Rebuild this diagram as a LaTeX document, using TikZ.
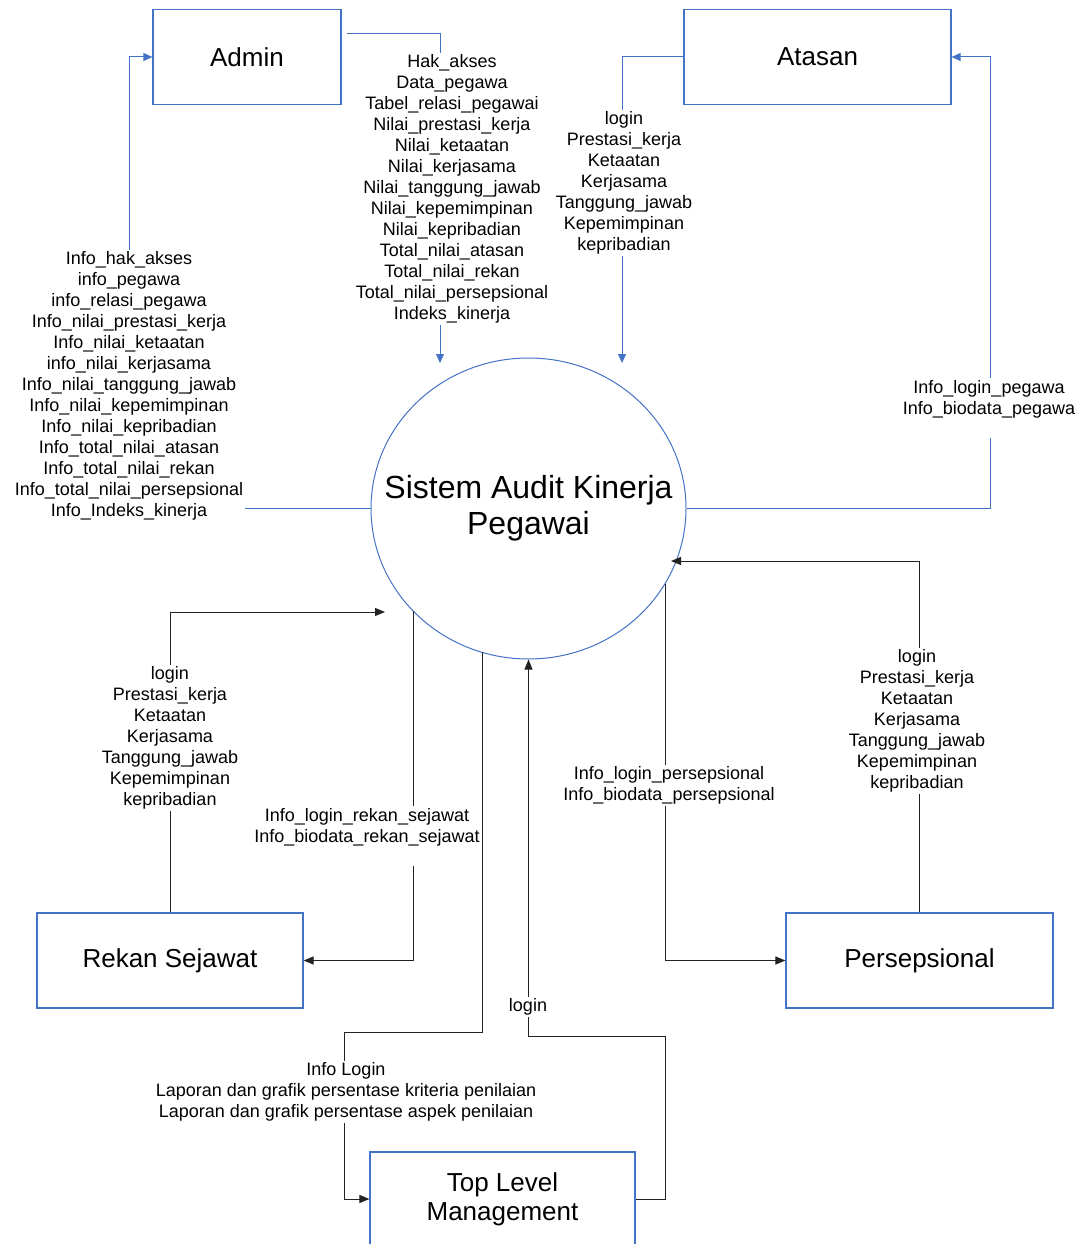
\documentclass[tikz,border=0pt]{standalone}
\usepackage{fontspec}
\setmainfont{Liberation Sans}
\usetikzlibrary{arrows.meta,shapes.geometric}
\definecolor{dfdblue}{HTML}{4472C4}
\definecolor{wire}{HTML}{222222}

\begin{document}
\begin{tikzpicture}[x=1pt,y=-1pt,
  entity/.style={draw=dfdblue, line width=1.2pt, rectangle, inner sep=0pt,
    minimum height=95pt, align=center, font=\fontsize{26}{29}\selectfont},
  process/.style={draw=dfdblue, line width=1pt, ellipse, inner sep=0pt,
    minimum width=315pt, minimum height=301pt},
  processtext/.style={inner sep=0pt, align=center, font=\fontsize{32}{36}\selectfont},
  flowlabel/.style={fill=white, inner sep=2pt, align=center,
    font=\fontsize{18}{21}\selectfont},
  blueflow/.style={draw=dfdblue, line width=1pt, -{Triangle[length=9pt,width=8pt]}},
  darkflow/.style={draw=wire, line width=1pt, -{Triangle[length=10pt,width=8pt]}},
]
\useasboundingbox (0,0) rectangle (1087,1244);

% external entities and the process
\node[entity, minimum width=188pt] (admin) at (247,57) {Admin};
\node[entity, minimum width=267pt] (atasan) at (817.5,57) {Atasan};
\node[process] (sys) at (528.5,508.5) {};
\node[processtext] (systext) at (sys.center) {Sistem Audit Kinerja\\Pegawai};
\node[entity, minimum width=266pt] (rekan) at (170,960.5) {Rekan Sejawat};
\node[entity, minimum width=267pt] (persep) at (919.5,960.5) {Persepsional};
\node[entity, minimum width=265pt, minimum height=94pt] (toplvl) at (502.5,1199) {Top Level\\Management};

% free ends of the flows
\coordinate (a1) at (347,34);
\coordinate (a2) at (440,363);
\coordinate (b2) at (622,363);
\coordinate (c1) at (990,57);
\coordinate (d1) at (129,57);
\coordinate (e1) at (385,612);
\coordinate (f1) at (413,611);
\coordinate (g1) at (482,652);
\coordinate (g2) at (344,1032);
\coordinate (h1) at (665,1036);
\coordinate (i1) at (665,584);
\coordinate (j1) at (671,561);

% data flows
\draw[blueflow] (a1) -| (a2);
\draw[blueflow] (atasan.west) -| (b2);
\draw[blueflow] (sys.east) -| (c1) -- (atasan.east);
\draw[blueflow] (sys.west) -| (d1) -- (admin.west);
\draw[darkflow] (rekan.north) |- (e1);
\draw[darkflow] (f1) |- (rekan.east);
\draw[darkflow] (g1) |- (g2) |- (toplvl.west);
\draw[darkflow] (toplvl.east) -| (h1) -| (sys.south);
\draw[darkflow] (i1) |- (persep.west);
\draw[darkflow] (persep.north) |- (j1);

% flow labels
\node[flowlabel] (ladmin) at (452,189) {Hak\_akses\\Data\_pegawa\\Tabel\_relasi\_pegawai\\Nilai\_prestasi\_kerja\\Nilai\_ketaatan\\Nilai\_kerjasama\\Nilai\_tanggung\_jawab\\Nilai\_kepemimpinan\\Nilai\_kepribadian\\Total\_nilai\_atasan\\Total\_nilai\_rekan\\Total\_nilai\_persepsional\\Indeks\_kinerja};
\node[flowlabel] (latasan) at (624,183) {login\\Prestasi\_kerja\\Ketaatan\\Kerjasama\\Tanggung\_jawab\\Kepemimpinan\\kepribadian};
\node[flowlabel] (lpegawa) at (989,408) {Info\_login\_pegawa\\Info\_biodata\_pegawa\\~};
\node[flowlabel] (linfo) at (129,386) {Info\_hak\_akses\\info\_pegawa\\info\_relasi\_pegawa\\Info\_nilai\_prestasi\_kerja\\Info\_nilai\_ketaatan\\info\_nilai\_kerjasama\\Info\_nilai\_tanggung\_jawab\\Info\_nilai\_kepemimpinan\\Info\_nilai\_kepribadian\\Info\_total\_nilai\_atasan\\Info\_total\_nilai\_rekan\\Info\_total\_nilai\_persepsional\\Info\_Indeks\_kinerja};
\node[flowlabel] (lrekanin) at (170,738) {login\\Prestasi\_kerja\\Ketaatan\\Kerjasama\\Tanggung\_jawab\\Kepemimpinan\\kepribadian};
\node[flowlabel] (lrekanout) at (367,836) {Info\_login\_rekan\_sejawat\\Info\_biodata\_rekan\_sejawat\\~};
\node[flowlabel] (ltopout) at (346,1092) {Info Login\\Laporan dan grafik persentase kriteria penilaian\\Laporan dan grafik persentase aspek penilaian};
\node[flowlabel] (ltopin) at (528,1007) {login};
\node[flowlabel] (lperspout) at (669,785.5) {Info\_login\_persepsional\\Info\_biodata\_persepsional};
\node[flowlabel] (lperspin) at (917,721) {login\\Prestasi\_kerja\\Ketaatan\\Kerjasama\\Tanggung\_jawab\\Kepemimpinan\\kepribadian};
\end{tikzpicture}
\end{document}
